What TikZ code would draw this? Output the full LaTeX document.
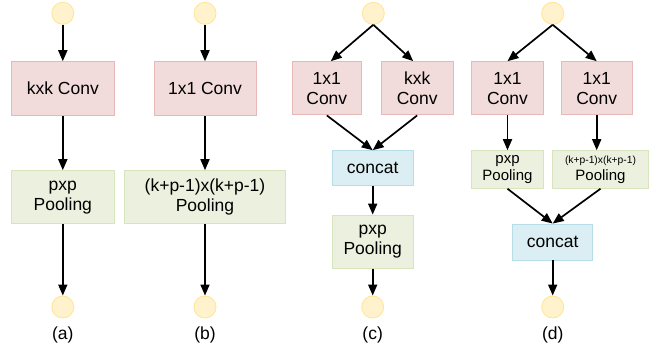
\documentclass[tikz,border=0pt]{standalone}
\usepackage{fontspec}
\setmainfont{Liberation Sans}
\usetikzlibrary{arrows.meta}
\definecolor{convfill}{HTML}{F2DCDB}
\definecolor{convline}{HTML}{E6B9B8}
\definecolor{poolfill}{HTML}{EBF1DE}
\definecolor{poolline}{HTML}{D7E4BD}
\definecolor{catfill}{HTML}{DAEEF3}
\definecolor{catline}{HTML}{B7DEE8}
\definecolor{iofill}{HTML}{FFF2CC}
\definecolor{ioline}{HTML}{FFE699}
\begin{document}
\begin{tikzpicture}[x=1pt,y=-1pt,
  box/.style={draw, line width=0.9pt, inner sep=0pt, align=center,
    font=\fontsize{17.5}{20}\selectfont},
  conv/.style={box, fill=convfill, draw=convline},
  pool/.style={box, fill=poolfill, draw=poolline},
  cat/.style={box, fill=catfill, draw=catline},
  io/.style={circle, draw=ioline, fill=iofill, line width=0.9pt,
    minimum size=22pt, inner sep=0pt},
  sublabel/.style={font=\fontsize{17.5}{20}\selectfont},
  arr/.style={-{Triangle[length=11pt,width=9pt]}, line width=1.7pt, black},
  small/.style={font=\fontsize{15}{17}\selectfont}]
\useasboundingbox (0,0) rectangle (657,352);

% (a)
\node[io] (ain) at (62.8,13.3) {};
\node[conv, minimum width=102.3pt, minimum height=54pt] (aconv) at (62.8,88.7) {kxk Conv};
\node[pool, minimum width=102.3pt, minimum height=53.3pt] (apool) at (62.8,197.3) {pxp\\Pooling};
\node[io] (aout) at (62.8,307) {};
\node[sublabel] (alab) at (62.8,335) {(a)};
\draw[arr] (ain) -- (aconv);
\draw[arr] (aconv) -- (apool);
\draw[arr] (apool) -- (aout);

% (b)
\node[io] (bin) at (205,13.3) {};
\node[conv, minimum width=102pt, minimum height=54pt] (bconv) at (205,88.7) {1x1 Conv};
\node[pool, minimum width=161.4pt, minimum height=53.3pt] (bpool) at (205,197.3) {(k+p-1)x(k+p-1)\\Pooling};
\node[io] (bout) at (205,307) {};
\node[sublabel] (blab) at (205,335) {(b)};
\draw[arr] (bin) -- (bconv);
\draw[arr] (bconv) -- (bpool);
\draw[arr] (bpool) -- (bout);

% (c)
\node[io] (cin) at (373.3,13.3) {};
\node[conv, minimum width=69.7pt, minimum height=53.3pt] (cconva) at (326.8,88.3) {1x1\\Conv};
\node[conv, minimum width=72.3pt, minimum height=53.3pt] (cconvb) at (417.2,88.3) {kxk\\Conv};
\node[cat, minimum width=81pt, minimum height=35.3pt] (ccat) at (372.7,168.3) {concat};
\node[pool, minimum width=81pt, minimum height=53.3pt] (cpool) at (372.7,241.7) {pxp\\Pooling};
\node[io] (cout) at (372.7,307) {};
\node[sublabel] (clab) at (372.7,335) {(c)};
\draw[arr] (cin.south) -- ([xshift=4pt]cconva.north);
\draw[arr] (cin.south) -- ([xshift=-4pt]cconvb.north);
\draw[arr] (cconva.south) -- (ccat.north);
\draw[arr] (cconvb.south) -- (ccat.north);
\draw[arr] (ccat) -- (cpool);
\draw[arr] (cpool) -- (cout);

% (d)
\node[io] (din) at (552.7,13.3) {};
\node[conv, minimum width=71.6pt, minimum height=53.3pt] (dconva) at (507.5,88.3) {1x1\\Conv};
\node[conv, minimum width=71.3pt, minimum height=53.3pt] (dconvb) at (596.7,88.3) {1x1\\Conv};
\node[pool, small, minimum width=71.6pt, minimum height=37.6pt] (dpoola) at (507.5,169.5) {pxp\\Pooling};
\node[pool, small, minimum width=95.6pt, minimum height=37.6pt] (dpoolb) at (600.5,169.5)
  {{\fontsize{10.3}{12}\selectfont (k+p-1)x(k+p-1)}\\Pooling};
\node[cat, minimum width=80pt, minimum height=36pt] (dcat) at (552.7,242) {concat};
\node[io] (dout) at (552.7,307) {};
\node[sublabel] (dlab) at (552.7,335) {(d)};
\draw[arr] (din.south) -- (dconva.north);
\draw[arr] (din.south) -- (dconvb.north);
\draw[arr] (dconva) -- (dpoola);
\draw[arr] (dconvb.south) -- (dconvb.south |- dpoolb.north);
\draw[arr] (dpoola.south) -- (dcat.north);
\draw[arr] (dpoolb.south) -- (dcat.north);
\draw[arr] (dcat) -- (dout);
\end{tikzpicture}
\end{document}
